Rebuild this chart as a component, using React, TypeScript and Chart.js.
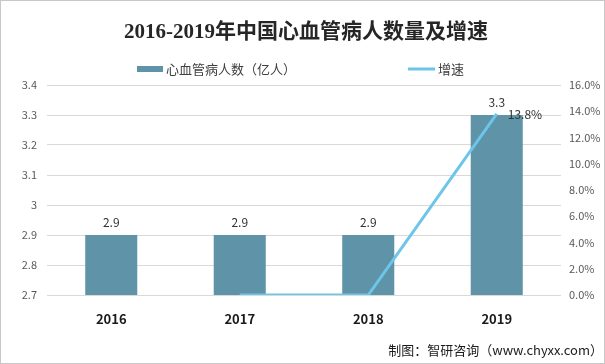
import React, { useEffect, useRef } from "react";
import { Chart, registerables } from "chart.js";

Chart.register(...registerables);

const categories = ["2016", "2017", "2018", "2019"];
const patients = [2.9, 2.9, 2.9, 3.3];
const growth: (number | null)[] = [null, 0, 0, 13.8];
const leftTicks = [2.7, 2.8, 2.9, 3.0, 3.1, 3.2, 3.3, 3.4];
const rightTicks = [0, 2, 4, 6, 8, 10, 12, 14, 16];
const titleText = "2016-2019年中国心血管病人数量及增速";
const barLabel = "心血管病人数（亿人）";
const lineLabel = "增速";
const sourceText = "制图：智研咨询（www.chyxx.com）";

const BAR_COLOR = "#5E93A8";
const LINE_COLOR = "#6DC5EA";
const CJK = '"Noto Sans CJK SC", "Microsoft YaHei", sans-serif';

const decorPlugin = {
  id: "decor",
  beforeDraw(chart: any) {
    const { ctx, width, height } = chart;
    ctx.save();
    ctx.fillStyle = "#ffffff";
    ctx.fillRect(0, 0, width, height);
    ctx.restore();
  },
  afterDraw(chart: any) {
    const { ctx, width, height } = chart;
    ctx.save();
    // border
    ctx.strokeStyle = "#c8c8c8";
    ctx.lineWidth = 1;
    ctx.strokeRect(0.5, 0.5, width - 1, height - 1);
    // title
    ctx.fillStyle = "#262626";
    ctx.font = 'bold 21px "Liberation Serif", "Noto Sans CJK SC", serif';
    ctx.textAlign = "center";
    ctx.textBaseline = "middle";
    ctx.fillText(titleText, 306, 33);
    // legend
    const ds0 = chart.data.datasets[0];
    const ds1 = chart.data.datasets[1];
    ctx.fillStyle = ds0.backgroundColor;
    ctx.fillRect(137, 66, 26, 6);
    ctx.font = "13px " + CJK;
    ctx.fillStyle = "#404040";
    ctx.textAlign = "left";
    ctx.fillText(ds0.label, 166, 69);
    ctx.strokeStyle = ds1.borderColor;
    ctx.lineWidth = 3;
    ctx.beginPath();
    ctx.moveTo(408, 69);
    ctx.lineTo(435, 69);
    ctx.stroke();
    ctx.fillText(ds1.label, 438, 69);
    // source
    ctx.font = "13px " + CJK;
    ctx.fillStyle = "#1a1a1a";
    ctx.textAlign = "right";
    ctx.fillText(sourceText, 603, 350);
    ctx.restore();
  },
  afterDatasetsDraw(chart: any) {
    const { ctx } = chart;
    ctx.save();
    ctx.font = "12px " + CJK;
    ctx.fillStyle = "#333333";
    ctx.textBaseline = "middle";
    const barMeta = chart.getDatasetMeta(0);
    barMeta.data.forEach((el: any, i: number) => {
      ctx.textAlign = "center";
      ctx.fillText(String(patients[i].toFixed(1)), el.x, el.y - 13);
    });
    const lineMeta = chart.getDatasetMeta(1);
    lineMeta.data.forEach((el: any, i: number) => {
      const v = growth[i];
      if (v === null || v === 0) return;
      ctx.textAlign = "left";
      ctx.fillText(v.toFixed(1) + "%", el.x + 11, el.y + 1);
    });
    ctx.restore();
  },
};

export default function App() {
  const ref = useRef<HTMLCanvasElement>(null);
  useEffect(() => {
    if (!ref.current) return;
    const chart = new Chart(ref.current, {
      type: "bar",
      data: {
        labels: categories,
        datasets: [
          {
            type: "bar",
            label: barLabel,
            data: patients,
            backgroundColor: BAR_COLOR,
            yAxisID: "y",
            order: 2,
            categoryPercentage: 1,
            barPercentage: 0.405,
          },
          {
            type: "line",
            label: lineLabel,
            data: growth,
            borderColor: LINE_COLOR,
            backgroundColor: LINE_COLOR,
            borderWidth: 3,
            pointRadius: 0,
            tension: 0,
            yAxisID: "y1",
            order: 1,
          } as any,
        ],
      },
      options: {
        responsive: false,
        animation: false,
        layout: { padding: { left: 7, right: 3, top: 85, bottom: 39 } },
        plugins: {
          legend: { display: false },
          title: { display: false },
          tooltip: { enabled: false },
        },
        scales: {
          x: {
            grid: { display: false },
            border: { display: false },
            ticks: {
              color: "#1a1a1a",
              font: { family: CJK, size: 13, weight: "bold" },
              padding: 8,
            },
            afterFit(scale: any) {
              scale.height = 30;
            },
          },
          y: {
            position: "left",
            min: 2.7,
            max: 3.4,
            afterBuildTicks(scale: any) {
              scale.ticks = leftTicks.map((v) => ({ value: v }));
            },
            ticks: {
              color: "#595959",
              font: { family: CJK, size: 11 },
              padding: 10,
              callback: (v: any) => String(Number(Number(v).toFixed(1))),
            },
            grid: { color: "#d9d9d9", drawTicks: false },
            border: { display: false },
            afterFit(scale: any) {
              scale.width = 40;
            },
          },
          y1: {
            position: "right",
            min: 0,
            max: 16,
            afterBuildTicks(scale: any) {
              scale.ticks = rightTicks.map((v) => ({ value: v }));
            },
            ticks: {
              color: "#595959",
              font: { family: CJK, size: 11 },
              padding: 8,
              callback: (v: any) => Number(v).toFixed(1) + "%",
            },
            grid: { display: false, drawTicks: false },
            border: { display: false },
            afterFit(scale: any) {
              scale.width = 41;
            },
          },
        },
      },
      plugins: [decorPlugin],
    });
    return () => chart.destroy();
  }, []);
  return (
    <div style={{ position: "fixed", left: 0, top: 0, width: 605, height: 364 }}>
      <canvas ref={ref} width={605} height={364} style={{ display: "block" }} />
    </div>
  );
}
